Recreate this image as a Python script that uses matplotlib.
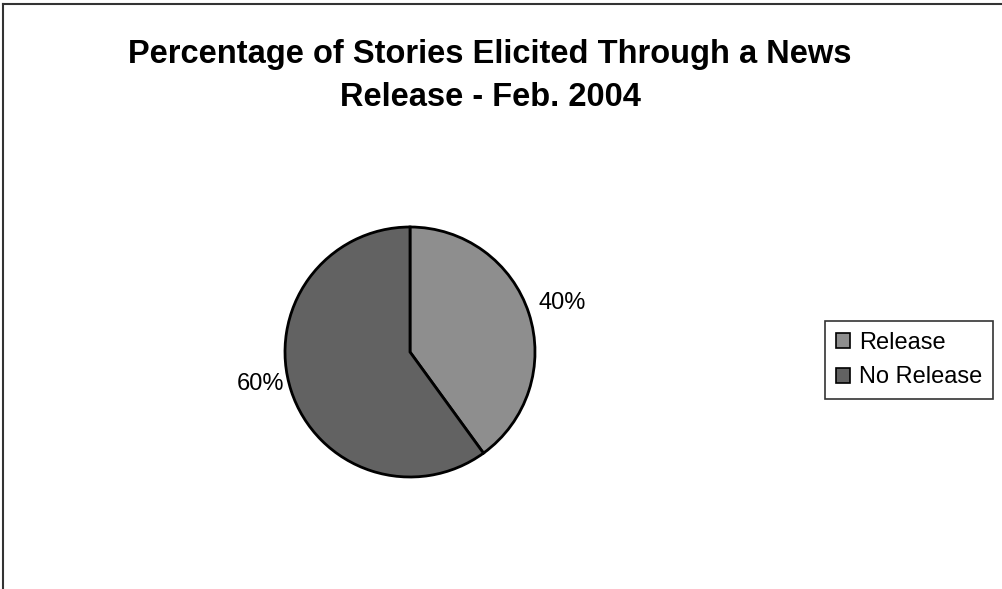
import matplotlib.pyplot as plt
from matplotlib.lines import Line2D
from matplotlib.patches import Patch

labels = ['Release', 'No Release']
shares = [40, 60]
colors = ['#8e8e8e', '#626262']

fig = plt.figure(figsize=(10.02, 5.89), dpi=100)
plt.rcParams['font.family'] = ['Liberation Sans', 'DejaVu Sans']

# chart frame (only top and left edges visible in the scan)
fig.add_artist(Line2D([3/1002, 1.0], [1 - 4/589, 1 - 4/589], transform=fig.transFigure, color='#333333', lw=1.5))
fig.add_artist(Line2D([3/1002, 3/1002], [0.0, 1 - 4/589], transform=fig.transFigure, color='#333333', lw=1.5))

fig.text(0.489, 1 - 76/589, 'Percentage of Stories Elicited Through a News\nRelease - Feb. 2004',
         ha='center', va='center', fontsize=23.5, fontweight='bold', linespacing=1.5)

ax = fig.add_axes([285/1002, 1 - 477/589, 250/1002, 250/589])
wedges, texts, autotexts = ax.pie(shares, colors=colors, startangle=90, counterclock=False,
                                  autopct='%d%%', pctdistance=1.28, radius=1,
                                  wedgeprops=dict(edgecolor='black', linewidth=2))
for t in autotexts:
    t.set_fontsize(17)
# Excel puts the 60% label a bit higher than the wedge midpoint
x, y = autotexts[1].get_position()
autotexts[1].set_position((x + 0.02, y + 0.14))
ax.set_xlim(-1, 1)
ax.set_ylim(-1, 1)
ax.set_aspect('equal')

handles = [Patch(facecolor=c, edgecolor='black', linewidth=1.2) for c in colors]
leg = fig.legend(handles, labels, loc='center left', bbox_to_anchor=(825/1002, 1 - 360/589),
                 fontsize=17, frameon=True, fancybox=False, edgecolor='black',
                 handlelength=0.6, handleheight=0.6, handletextpad=0.4, labelspacing=0.55,
                 borderpad=0.45, borderaxespad=0)
leg.get_frame().set_linewidth(1.2)

fig.savefig('out.png', dpi=100, facecolor='white')
